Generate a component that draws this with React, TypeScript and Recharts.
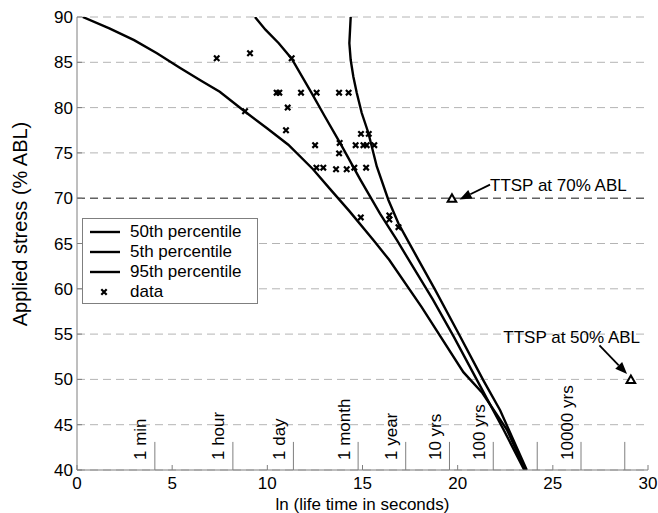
import React from "react";
import {
  ComposedChart,
  Line,
  Scatter,
  XAxis,
  YAxis,
  CartesianGrid,
  ReferenceLine,
  ReferenceDot,
  Legend,
} from "recharts";

const FONT = '"Liberation Sans", Arial, Helvetica, sans-serif';
const AXIS = "#7f7f7f";

// percentile curves
const p50 = [
  { x: 9.35, y: 90 }, { x: 9.9, y: 88.6 }, { x: 10.6, y: 87.1 }, { x: 11.28, y: 85.4 },
  { x: 12.3, y: 81.7 }, { x: 13.0, y: 79.1 }, { x: 13.82, y: 76.1 }, { x: 14.87, y: 72.1 },
  { x: 15.92, y: 68.3 }, { x: 16.8, y: 65.4 }, { x: 17.4, y: 63.3 }, { x: 18.7, y: 58.8 },
  { x: 19.8, y: 54.7 }, { x: 21.2, y: 49.2 }, { x: 22.4, y: 44.5 }, { x: 23.5, y: 40 },
];

const p5 = [
  { x: 0.3, y: 90 }, { x: 1.7, y: 88.75 }, { x: 3.0, y: 87.45 }, { x: 4.2, y: 86.0 },
  { x: 5.4, y: 84.4 }, { x: 6.5, y: 83.0 }, { x: 7.5, y: 81.75 }, { x: 8.8, y: 79.6 },
  { x: 10.0, y: 77.7 }, { x: 11.1, y: 75.9 }, { x: 12.4, y: 73.2 }, { x: 13.3, y: 71.0 },
  { x: 14.3, y: 68.6 }, { x: 15.6, y: 65.3 }, { x: 16.4, y: 63.2 }, { x: 18.1, y: 58.0 },
  { x: 20.3, y: 50.8 }, { x: 21.3, y: 48.5 }, { x: 22.6, y: 44.4 }, { x: 23.55, y: 40 },
];

const p95 = [
  { x: 14.38, y: 90 }, { x: 14.31, y: 87.1 }, { x: 14.38, y: 85.25 }, { x: 14.52, y: 83.4 },
  { x: 14.7, y: 81.6 }, { x: 14.96, y: 79.4 }, { x: 15.31, y: 77.2 }, { x: 15.75, y: 73.5 },
  { x: 16.36, y: 69.8 }, { x: 16.89, y: 67.2 }, { x: 17.41, y: 65.2 }, { x: 17.94, y: 63.2 },
  { x: 18.81, y: 59.9 }, { x: 20.04, y: 55.1 }, { x: 21.35, y: 49.9 }, { x: 22.23, y: 46.6 },
  { x: 23.63, y: 40 },
];

// test data
const testData = [
  { x: 7.34, y: 85.45 }, { x: 9.09, y: 86.0 }, { x: 11.28, y: 85.45 },
  { x: 10.49, y: 81.65 }, { x: 10.63, y: 81.65 }, { x: 11.77, y: 81.65 }, { x: 12.59, y: 81.65 },
  { x: 13.77, y: 81.65 }, { x: 14.27, y: 81.65 },
  { x: 11.07, y: 80.0 }, { x: 8.83, y: 79.6 }, { x: 10.98, y: 77.5 },
  { x: 14.92, y: 77.1 }, { x: 15.33, y: 77.1 },
  { x: 12.51, y: 75.85 }, { x: 13.8, y: 76.1 }, { x: 14.64, y: 75.85 }, { x: 15.05, y: 75.85 },
  { x: 15.22, y: 75.85 }, { x: 15.62, y: 75.85 },
  { x: 13.77, y: 74.95 },
  { x: 12.58, y: 73.37 }, { x: 12.94, y: 73.37 }, { x: 13.61, y: 73.2 }, { x: 14.17, y: 73.2 },
  { x: 14.57, y: 73.37 }, { x: 15.19, y: 73.37 },
  { x: 14.91, y: 67.88 }, { x: 16.41, y: 68.1 }, { x: 16.41, y: 67.65 }, { x: 16.89, y: 66.8 },
];

const ttspPoints = [{ x: 19.7, y: 70 }, { x: 29.1, y: 50 }];

const xTicks = [0, 5, 10, 15, 20, 25, 30];
const yTicks = [40, 45, 50, 55, 60, 65, 70, 75, 80, 85, 90];

// ln(seconds) markers
const timeX = [4.09, 8.19, 11.37, 14.77, 17.27, 19.57, 21.87, 24.18, 26.48, 28.78];
const timeLabels = ["1 min", "1 hour", "1 day", "1 month", "1 year", "10 yrs", "100 yrs", "", "10000 yrs", ""];
const markTop = 43.1;

const notes = [
  { x: 21.7, y: 70.83, text: "TTSP at 70% ABL" },
  { x: 22.4, y: 53.98, text: "TTSP at 50% ABL" },
];
const arrows = [
  { x1: 21.7, y1: 71.5, x2: 20.1, y2: 69.85 },
  { x1: 27.45, y1: 53.75, x2: 28.9, y2: 50.6 },
];

const Cross = (props: any) => {
  const { cx, cy } = props;
  const s = 2.7;
  return (
    <path
      d={`M${cx - s},${cy - s}L${cx + s},${cy + s}M${cx - s},${cy + s}L${cx + s},${cy - s}`}
      stroke="#000"
      strokeWidth={2.2}
    />
  );
};

const Triangle = (props: any) => {
  const { cx, cy } = props;
  return (
    <path
      d={`M${cx},${cy - 4}L${cx + 4.3},${cy + 3.5}L${cx - 4.3},${cy + 3.5}Z`}
      fill="#fff"
      stroke="#000"
      strokeWidth={2}
    />
  );
};

const Arrow = (props: any) => {
  const { x1, y1, x2, y2 } = props;
  const len = Math.hypot(x2 - x1, y2 - y1);
  const ux = (x2 - x1) / len;
  const uy = (y2 - y1) / len;
  const hl = 12;
  const hw = 4.8;
  const bx = x2 - ux * hl;
  const by = y2 - uy * hl;
  return (
    <g>
      <line x1={x1} y1={y1} x2={bx} y2={by} stroke="#000" strokeWidth={1.8} />
      <path d={`M${x2},${y2}L${bx - uy * hw},${by + ux * hw}L${bx + uy * hw},${by - ux * hw}Z`} fill="#000" />
    </g>
  );
};

const TimeMark = (props: any) => {
  const { x1, y1, x2, y2, text } = props;
  const tx = x1 - 8.5;
  const ty = Math.max(y1, y2) - 10;
  return (
    <g>
      <line x1={x1} y1={y1} x2={x2} y2={y2} stroke={AXIS} strokeWidth={1} />
      {text && (
        <text x={tx} y={ty} transform={`rotate(-90 ${tx} ${ty})`} fontSize={17} fill="#000" textAnchor="start">
          {text}
        </text>
      )}
    </g>
  );
};

const NoteText = (props: any) => (
  <text x={props.cx} y={props.cy} fontSize={17} fill="#000" textAnchor="start">
    {props.text}
  </text>
);

const renderLegend = (props: any) => (
  <div
    style={{
      boxSizing: "border-box",
      width: 176,
      height: 86,
      border: `1px solid ${AXIS}`,
      background: "#fff",
      paddingTop: 3,
      fontFamily: FONT,
      fontSize: 17,
    }}
  >
    {(props.payload || [])
      .filter((entry: any) => entry.type !== "none" && entry.value !== "ttsp")
      .map((entry: any) => (
        <div key={entry.value} style={{ display: "flex", alignItems: "center", height: 20 }}>
          <svg width={47} height={20}>
            {entry.type === "cross" ? (
              <Cross cx={21} cy={10} />
            ) : (
              <line x1={7} y1={10} x2={37} y2={10} stroke="#000" strokeWidth={2.4} />
            )}
          </svg>
          <span style={{ lineHeight: "20px" }}>{entry.value}</span>
        </div>
      ))}
  </div>
);

export default function App() {
  return (
    <div style={{ position: "absolute", left: 0, top: 0, background: "#fff", fontFamily: FONT }}>
      <ComposedChart width={658} height={513} margin={{ top: 17, right: 10, left: 0, bottom: 0 }}>
        <CartesianGrid vertical={false} stroke="#b4b4b4" strokeDasharray="8 5" />
        <XAxis
          dataKey="x"
          type="number"
          domain={[0, 30]}
          allowDataOverflow
          ticks={xTicks}
          interval={0}
          height={43}
          tickSize={-5}
          tickMargin={12}
          stroke={AXIS}
          tick={{ fontSize: 17, fill: "#000" }}
          label={{
            content: (p: any) => (
              <text
                x={p.viewBox.x + p.viewBox.width / 2}
                y={p.viewBox.y + 40}
                fontSize={17}
                fill="#000"
                textAnchor="middle"
              >
                ln (life time in seconds)
              </text>
            ),
          }}
        />
        <XAxis
          xAxisId="top"
          orientation="top"
          type="number"
          domain={[0, 30]}
          allowDataOverflow
          ticks={xTicks}
          interval={0}
          height={0}
          tickSize={-5}
          tick={false}
          stroke={AXIS}
        />
        <YAxis
          dataKey="y"
          type="number"
          domain={[40, 90]}
          allowDataOverflow
          ticks={yTicks}
          interval={0}
          width={77}
          tickSize={-5}
          tickMargin={9}
          stroke={AXIS}
          tick={{ fontSize: 17, fill: "#000" }}
          label={{
            content: () => (
              <text x={27} y={224} transform="rotate(-90 27 224)" fontSize={20} fill="#000" textAnchor="middle">
                Applied stress (% ABL)
              </text>
            ),
          }}
        />
        <YAxis
          yAxisId="right"
          orientation="right"
          type="number"
          domain={[40, 90]}
          allowDataOverflow
          width={0}
          tick={false}
          tickLine={false}
          stroke={AXIS}
        />
        <ReferenceLine y={70} stroke="#333" strokeDasharray="8 5" />
        {timeX.map((x, i) => (
          <ReferenceLine
            key={`t${i}`}
            segment={[{ x, y: 40 }, { x, y: markTop }]}
            shape={(p: any) => <TimeMark {...p} text={timeLabels[i]} />}
          />
        ))}
        <Line name="50th percentile" data={p50} dataKey="y" type="linear" stroke="#000" strokeWidth={2.4} dot={false} legendType="line" isAnimationActive={false} />
        <Line name="5th percentile" data={p5} dataKey="y" type="linear" stroke="#000" strokeWidth={2.4} dot={false} legendType="line" isAnimationActive={false} />
        <Line name="95th percentile" data={p95} dataKey="y" type="linear" stroke="#000" strokeWidth={2.4} dot={false} legendType="line" isAnimationActive={false} />
        <Scatter name="data" data={testData} shape={Cross} legendType="cross" isAnimationActive={false} />
        <Scatter name="ttsp" data={ttspPoints} shape={Triangle} legendType="none" isAnimationActive={false} />
        {arrows.map((a, i) => (
          <ReferenceLine key={`a${i}`} segment={[{ x: a.x1, y: a.y1 }, { x: a.x2, y: a.y2 }]} shape={Arrow} />
        ))}
        {notes.map((n, i) => (
          <ReferenceDot key={`n${i}`} x={n.x} y={n.y} r={1} shape={(p: any) => <NoteText {...p} text={n.text} />} />
        ))}
        <Legend
          layout="horizontal"
          align="center"
          verticalAlign="middle"
          wrapperStyle={{ left: 82, top: 218, width: 176, height: 86 }}
          content={renderLegend}
        />
      </ComposedChart>
    </div>
  );
}
